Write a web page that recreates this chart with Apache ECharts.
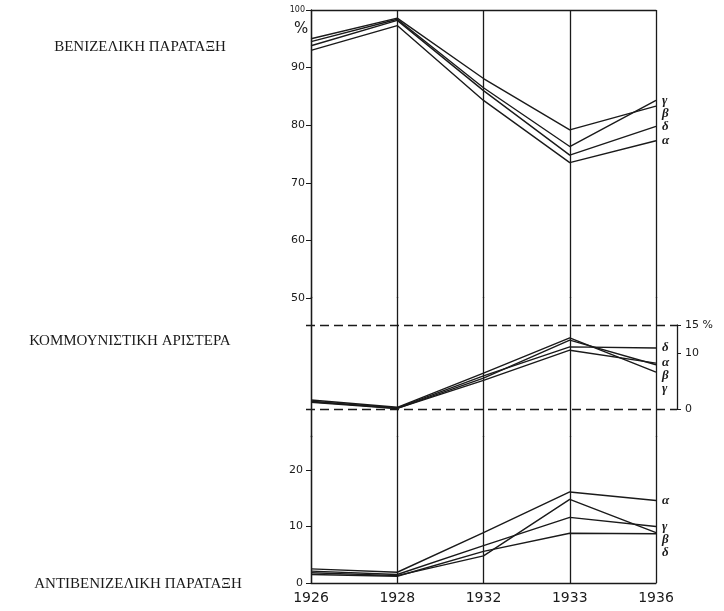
<!DOCTYPE html>
<html>
<head>
<meta charset="utf-8">
<script src="https://cdn.jsdelivr.net/npm/echarts@6/dist/echarts.min.js"></script>
<style>html,body{margin:0;padding:0;background:#fff}#c{width:724px;height:611px}</style>
</head>
<body>
<div id="c"></div>
<script>
// ---- data ----
var years = ['1926', '1928', '1932', '1933', '1936'];
var seriesNames = ['α', 'β', 'γ', 'δ'];
// Βενιζελική παράταξη (%)
var venAlpha = [93.0, 97.3, 84.3, 73.5, 77.3];
var venBeta  = [95.0, 98.6, 88.1, 79.2, 83.3];
var venGamma = [94.5, 98.4, 86.5, 76.3, 84.3];
var venDelta = [93.8, 98.2, 86.0, 74.8, 79.8];
// Κομμουνιστική αριστερά (%)
var komAlpha = [1.2, 0.1, 5.1, 10.5, 8.2];
var komBeta  = [1.4, 0.1, 5.5, 12.3, 7.9];
var komGamma = [1.6, 0.3, 6.4, 12.7, 6.6];
var komDelta = [1.3, 0.2, 5.9, 11.1, 10.9];
// Αντιβενιζελική παράταξη (%)
var antAlpha = [2.5, 1.9, 8.9, 16.1, 14.6];
var antBeta  = [1.8, 1.3, 4.8, 14.8, 8.9];
var antGamma = [2.1, 1.5, 6.6, 11.6, 10.0];
var antDelta = [1.5, 1.2, 5.6, 8.8, 8.7];
var panelTitles = ['ΒΕΝΙΖΕΛΙΚΗ ΠΑΡΑΤΑΞΗ', 'ΚΟΜΜΟΥΝΙΣΤΙΚΗ ΑΡΙΣΤΕΡΑ', 'ΑΝΤΙΒΕΝΙΖΕΛΙΚΗ ΠΑΡΑΤΑΞΗ'];

var panels = [
  [venAlpha, venBeta, venGamma, venDelta],
  [komAlpha, komBeta, komGamma, komDelta],
  [antAlpha, antBeta, antGamma, antDelta]
];

var INK = '#1a1a1a';
var hand = '"DejaVu Sans", sans-serif';
var serif = '"Liberation Serif", "DejaVu Serif", serif';

function xAx(idx, opts) {
  return Object.assign({
    type: 'category', data: years, boundaryGap: false, gridIndex: idx,
    axisLine: {show: false}, axisTick: {show: false}, axisLabel: {show: false},
    splitLine: {show: true, lineStyle: {color: INK, width: 1.3}}
  }, opts || {});
}

var series = [];
panels.forEach(function (p, pi) {
  p.forEach(function (vals, si) {
    series.push({
      type: 'line', name: seriesNames[si], xAxisIndex: pi, yAxisIndex: pi,
      data: vals, symbol: 'none', silent: true,
      lineStyle: {color: INK, width: 1.4},
      endLabel: {show: true, formatter: seriesNames[si], color: INK,
        fontFamily: serif, fontStyle: 'italic', fontSize: 13, fontWeight: 'bold', distance: 6},
      labelLayout: {moveOverlap: 'shiftY'}
    });
  });
});
// dashed lines + bracket for the middle panel
series.push({
  type: 'line', xAxisIndex: 3, yAxisIndex: 3, data: [], silent: true,
  markLine: {symbol: 'none', silent: true, label: {show: false},
    lineStyle: {color: INK, type: [9, 5], width: 1.3},
    data: [{yAxis: 0}, {yAxis: 15}]}
});

var option = {
  backgroundColor: '#fff',
  animation: false,
  title: [
    {text: panelTitles[0], left: 135, top: 35, textAlign: 'center',
      textStyle: {fontFamily: serif, fontSize: 15, fontWeight: 'normal', color: INK}},
    {text: panelTitles[1], left: 125, top: 329, textAlign: 'center',
      textStyle: {fontFamily: serif, fontSize: 15, fontWeight: 'normal', color: INK}},
    {text: panelTitles[2], left: 133, top: 572, textAlign: 'center',
      textStyle: {fontFamily: serif, fontSize: 15, fontWeight: 'normal', color: INK}},
    {text: '%', left: 289, top: 17,
      textStyle: {fontFamily: hand, fontSize: 15, fontWeight: 'normal', color: INK}}
  ],
  grid: [
    {left: 311, right: 68, top: 10, height: 288},
    {left: 311, right: 68, top: 297, height: 140},
    {left: 311, right: 68, top: 436, height: 147},
    {left: 306, right: 47, top: 325, height: 84}
  ],
  xAxis: [
    xAx(0, {position: 'top', axisLine: {show: true, lineStyle: {color: INK, width: 1.3}}}),
    xAx(1),
    xAx(2, {position: 'bottom', axisLine: {show: true, lineStyle: {color: INK, width: 1.3}},
      axisLabel: {show: true, color: INK, fontFamily: hand, fontSize: 14, margin: 8}}),
    {type: 'value', gridIndex: 3, min: 0, max: 1, show: false}
  ],
  yAxis: [
    {type: 'value', gridIndex: 0, min: 50, max: 100, interval: 10,
      axisLine: {show: true, lineStyle: {color: INK, width: 1.3}},
      axisTick: {show: true, length: 5, lineStyle: {color: INK}},
      splitLine: {show: false},
      axisLabel: {color: INK, fontFamily: hand, fontSize: 11, margin: 6,
        formatter: function (v) { return v === 100 ? '{s|100}' : String(v); },
        rich: {s: {fontSize: 8, color: INK, fontFamily: hand}}}},
    {type: 'value', gridIndex: 1, min: -5, max: 20, interval: 5,
      axisLine: {show: true, lineStyle: {color: INK, width: 1.3}},
      axisTick: {show: false}, axisLabel: {show: false}, splitLine: {show: false}},
    {type: 'value', gridIndex: 2, min: 0, max: 26, interval: 10,
      axisLine: {show: true, lineStyle: {color: INK, width: 1.3}},
      axisTick: {show: true, length: 5, lineStyle: {color: INK}},
      splitLine: {show: false},
      axisLabel: {color: INK, fontFamily: hand, fontSize: 11, margin: 8, showMaxLabel: false}},
    {type: 'value', gridIndex: 3, position: 'right', min: 0, max: 15, interval: 10,
      axisLine: {show: true, onZero: false, lineStyle: {color: INK, width: 1.3}},
      axisTick: {show: true, inside: false, length: 4, lineStyle: {color: INK}},
      splitLine: {show: false},
      axisLabel: {color: INK, fontFamily: hand, fontSize: 11, margin: 8,
        formatter: function (v) { return v === 15 ? '15 %' : String(v); }}}
  ],
  series: series
};

var chart = echarts.init(document.getElementById('c'), null, {renderer: 'canvas'});
chart.setOption(option);
</script>
</body>
</html>
